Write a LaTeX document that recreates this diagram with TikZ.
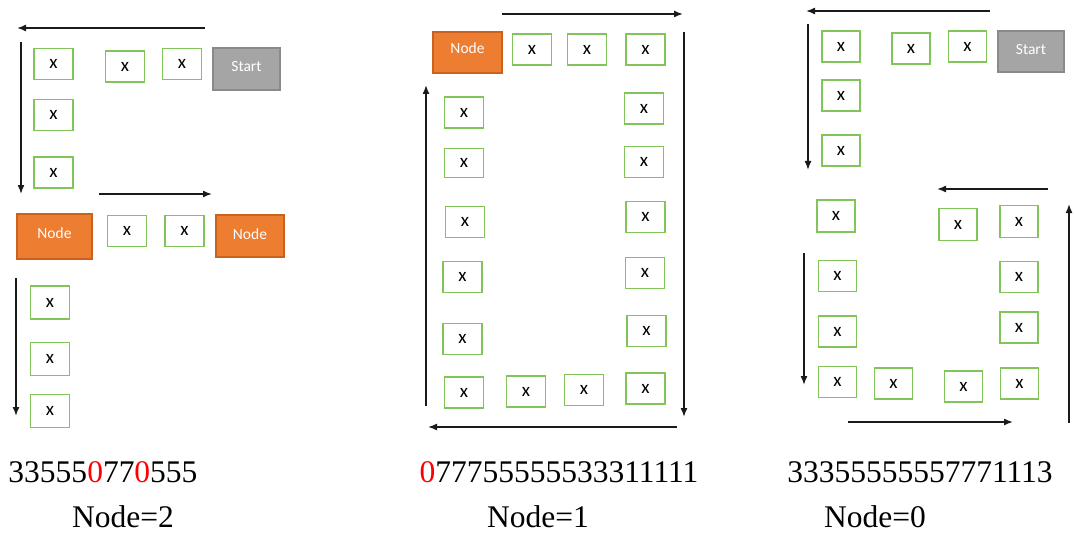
\documentclass[tikz,border=0pt]{standalone}
\usepackage{fontspec}
\setmainfont{Liberation Serif}
\newfontfamily\calibri{Carlito}
\usetikzlibrary{arrows.meta}
\definecolor{boxgreen}{HTML}{80C45A}
\definecolor{orangefill}{HTML}{ED7D31}
\definecolor{orangeline}{HTML}{C8621E}
\definecolor{grayfill}{HTML}{A5A5A5}
\definecolor{grayline}{HTML}{8A8A8A}
\definecolor{arrowcol}{HTML}{1A1A1A}
\tikzset{
  box/.style={draw=boxgreen, line width=1.2pt, fill=white, minimum width=39pt, minimum height=31pt, inner sep=0pt, font=\calibri\fontsize{19}{22}\selectfont},
  startbox/.style={draw=grayline, line width=1.3pt, fill=grayfill, text=white, inner sep=0pt, font=\calibri\fontsize{15.5}{18}\selectfont, text depth=0pt},
  nodebox/.style={draw=orangeline, line width=1.1pt, fill=orangefill, text=white, inner sep=0pt, font=\calibri\fontsize{15.5}{18}\selectfont, text depth=0pt},
  flow/.style={draw=arrowcol, line width=1.5pt, -{Latex[length=9pt,width=7pt]}},
  seq/.style={anchor=base, inner sep=0pt, font=\fontsize{31.5}{36}\selectfont},
}
\begin{document}
\begin{tikzpicture}[x=1pt,y=-1pt]
\useasboundingbox (0,0) rectangle (1075,540);
% ---------- panel 1 ----------
\node[startbox, minimum width=67pt, minimum height=42pt] (p1s) at (246.5,69) {\raisebox{5pt}{Start}};
\node[box] (p1b1) at (53.5,64) {x};
\node[box] (p1b2) at (125,66.5) {x};
\node[box] (p1b3) at (182,64) {x};
\node[box] (p1b4) at (53.5,115) {x};
\node[box] (p1b5) at (53.5,172.5) {x};
\node[nodebox, minimum width=75pt, minimum height=45pt] (p1n1) at (54.5,236.5) {\raisebox{7pt}{Node}};
\node[box] (p1b6) at (127,231) {x};
\node[box] (p1b7) at (184.5,231) {x};
\node[nodebox, minimum width=68pt, minimum height=42pt] (p1n2) at (250,236) {\raisebox{4pt}{Node}};
\node[box, minimum height=33pt] (p1b8) at (50,302.5) {x};
\node[box, minimum height=33pt] (p1b9) at (50,359) {x};
\node[box, minimum height=33pt] (p1b10) at (50,411) {x};
\coordinate (p1a1s) at (205,28); \coordinate (p1a1e) at (17,28);
\coordinate (p1a2s) at (21,42); \coordinate (p1a2e) at (21,194);
\coordinate (p1a3s) at (99,194); \coordinate (p1a3e) at (212,194);
\coordinate (p1a4s) at (16,278); \coordinate (p1a4e) at (16,416);
\draw[flow] (p1a1s) -- (p1a1e);
\draw[flow] (p1a2s) -- (p1a2e);
\draw[flow] (p1a3s) -- (p1a3e);
\draw[flow] (p1a4s) -- (p1a4e);
\node[seq] (p1t) at (103,482) {33555\textcolor{red}{0}77\textcolor{red}{0}555};
\node[seq] (p1l) at (123,527) {Node=2};
% ---------- panel 2 ----------
\node[nodebox, minimum width=69pt, minimum height=41pt] (p2n) at (467.5,52.5) {\raisebox{8pt}{Node}};
\node[box] (p2b1) at (532,49.5) {x};
\node[box] (p2b2) at (587,49.5) {x};
\node[box] (p2b3) at (645.5,49.5) {x};
\node[box] (p2b4) at (464,112.5) {x};
\node[box, minimum height=29pt] (p2b5) at (464,163) {x};
\node[box] (p2b6) at (465,222) {x};
\node[box] (p2b7) at (462.5,277) {x};
\node[box] (p2b8) at (462.5,339) {x};
\node[box] (p2b9) at (464,392.5) {x};
\node[box] (p2b10) at (526,391.5) {x};
\node[box] (p2b11) at (584,390) {x};
\node[box] (p2b12) at (645.5,388.5) {x};
\node[box] (p2b13) at (644,108.5) {x};
\node[box] (p2b14) at (644,162) {x};
\node[box] (p2b15) at (645.5,217) {x};
\node[box] (p2b16) at (645,273) {x};
\node[box] (p2b17) at (646.5,331) {x};
\coordinate (p2a1s) at (502,14); \coordinate (p2a1e) at (683,14);
\coordinate (p2a2s) at (684,32); \coordinate (p2a2e) at (684,417);
\coordinate (p2a3s) at (677,427); \coordinate (p2a3e) at (428,427);
\coordinate (p2a4s) at (426,406); \coordinate (p2a4e) at (426,85);
\draw[flow] (p2a1s) -- (p2a1e);
\draw[flow] (p2a2s) -- (p2a2e);
\draw[flow] (p2a3s) -- (p2a3e);
\draw[flow] (p2a4s) -- (p2a4e);
\node[seq] (p2t) at (559,482) {\textcolor{red}{0}77755555533311111};
\node[seq] (p2l) at (538,527) {Node=1};
% ---------- panel 3 ----------
\node[startbox, minimum width=66pt, minimum height=41pt] (p3s) at (1031,51.5) {\raisebox{5pt}{Start}};
\node[box, minimum width=38pt] (p3b1) at (841,46.5) {x};
\node[box, minimum width=38pt] (p3b2) at (911,48.5) {x};
\node[box, minimum width=38pt] (p3b3) at (967.5,46.5) {x};
\node[box, minimum width=38pt] (p3b4) at (841,95.5) {x};
\node[box, minimum width=38pt] (p3b5) at (841,150.5) {x};
\node[box, minimum width=38pt, minimum height=32pt] (p3b6) at (836,216) {x};
\node[box, minimum width=38pt, minimum height=32pt] (p3b7) at (958,224.5) {x};
\node[box, minimum width=38pt, minimum height=32pt] (p3b8) at (1019,221.5) {x};
\node[box, minimum width=38pt] (p3b9) at (837.5,276) {x};
\node[box, minimum width=38pt] (p3b10) at (837.5,331.5) {x};
\node[box, minimum width=38pt] (p3b11) at (837.5,382) {x};
\node[box, minimum width=38pt] (p3b12) at (893.5,383.5) {x};
\node[box, minimum width=38pt] (p3b13) at (963.5,386.5) {x};
\node[box, minimum width=38pt] (p3b14) at (1019.5,383.5) {x};
\node[box, minimum width=38pt] (p3b15) at (1019,277) {x};
\node[box, minimum width=38pt] (p3b16) at (1019,327.5) {x};
\coordinate (p3a1s) at (990,11); \coordinate (p3a1e) at (806,11);
\coordinate (p3a2s) at (808,24); \coordinate (p3a2e) at (808,170);
\coordinate (p3a3s) at (1048,189); \coordinate (p3a3e) at (937,189);
\coordinate (p3a4s) at (1069,423); \coordinate (p3a4e) at (1069,204);
\coordinate (p3a5s) at (804,253); \coordinate (p3a5e) at (804,385);
\coordinate (p3a6s) at (848,422); \coordinate (p3a6e) at (1013,422);
\draw[flow] (p3a1s) -- (p3a1e);
\draw[flow] (p3a2s) -- (p3a2e);
\draw[flow] (p3a3s) -- (p3a3e);
\draw[flow] (p3a4s) -- (p3a4e);
\draw[flow] (p3a5s) -- (p3a5e);
\draw[flow] (p3a6s) -- (p3a6e);
\node[seq] (p3t) at (920,482) {33355555557771113};
\node[seq] (p3l) at (875,527) {Node=0};
\end{tikzpicture}
\end{document}
